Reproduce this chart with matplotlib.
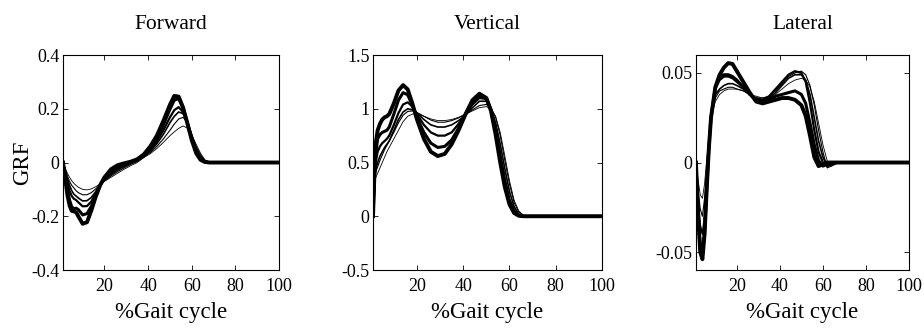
import matplotlib
matplotlib.use("Agg")
import matplotlib.pyplot as plt

plt.rcParams["font.family"] = ["Liberation Serif", "DejaVu Serif"]

# % gait cycle sample points shared by all curves
gait = [1, 2, 3, 4, 5, 6, 7, 8, 10, 12, 14, 16, 18, 20, 23, 26, 29, 32, 35, 38,
        41, 44, 47, 50, 52, 54, 56, 58, 60, 62, 64, 66, 68, 70, 100]

# six subjects / speeds per component, thin -> thick
forward = [
    [0, -0.02, -0.04, -0.055, -0.068, -0.078, -0.085, -0.092, -0.1, -0.102, -0.098, -0.09, -0.08, -0.07,
     -0.055, -0.04, -0.025, -0.012, 0.0, 0.018, 0.033, 0.052, 0.075, 0.1, 0.114, 0.127, 0.136, 0.128,
     0.1, 0.068, 0.035, 0.01, 0.002, 0, 0],
    [0, -0.025, -0.05, -0.07, -0.085, -0.095, -0.105, -0.112, -0.12, -0.12, -0.112, -0.098, -0.082, -0.068,
     -0.05, -0.034, -0.02, -0.007, 0.004, 0.02, 0.037, 0.06, 0.088, 0.12, 0.143, 0.162, 0.168, 0.15,
     0.105, 0.06, 0.028, 0.008, 0.001, 0, 0],
    [0, -0.03, -0.06, -0.085, -0.105, -0.118, -0.125, -0.132, -0.143, -0.142, -0.13, -0.108, -0.083, -0.066,
     -0.045, -0.028, -0.015, -0.003, 0.008, 0.022, 0.042, 0.07, 0.105, 0.148, 0.172, 0.188, 0.182, 0.152,
     0.102, 0.053, 0.021, 0.006, 0, 0, 0],
    [0, -0.04, -0.075, -0.105, -0.125, -0.135, -0.14, -0.148, -0.163, -0.162, -0.145, -0.115, -0.083, -0.063,
     -0.04, -0.022, -0.01, 0.0, 0.01, 0.025, 0.048, 0.08, 0.12, 0.168, 0.195, 0.206, 0.188, 0.148,
     0.093, 0.044, 0.016, 0.004, 0, 0, 0],
    [0, -0.05, -0.1, -0.14, -0.165, -0.172, -0.17, -0.175, -0.195, -0.19, -0.163, -0.122, -0.083, -0.058,
     -0.032, -0.015, -0.005, 0.002, 0.011, 0.027, 0.053, 0.09, 0.14, 0.198, 0.232, 0.238, 0.203, 0.148,
     0.088, 0.04, 0.013, 0.003, 0, 0, 0],
    [0, -0.06, -0.12, -0.16, -0.18, -0.182, -0.185, -0.2, -0.228, -0.222, -0.178, -0.127, -0.085, -0.055,
     -0.025, -0.01, -0.003, 0.003, 0.012, 0.03, 0.06, 0.1, 0.155, 0.215, 0.248, 0.245, 0.205, 0.145,
     0.083, 0.035, 0.01, 0.002, 0, 0, 0],
]

vertical = [
    [0, 0.35, 0.4, 0.45, 0.5, 0.55, 0.6, 0.64, 0.72, 0.8, 0.88, 0.93, 0.95, 0.955, 0.93, 0.905, 0.89,
     0.89, 0.9, 0.92, 0.95, 0.98, 1.01, 1.02, 1.0, 0.93, 0.78, 0.56, 0.33, 0.15, 0.05, 0.01, 0, 0, 0],
    [0, 0.4, 0.46, 0.52, 0.57, 0.62, 0.66, 0.7, 0.78, 0.87, 0.94, 0.975, 0.98, 0.965, 0.93, 0.895, 0.875,
     0.875, 0.89, 0.915, 0.95, 0.99, 1.03, 1.04, 1.01, 0.92, 0.75, 0.52, 0.3, 0.13, 0.04, 0.008, 0, 0, 0],
    [0, 0.42, 0.5, 0.56, 0.6, 0.64, 0.67, 0.7, 0.8, 0.9, 0.97, 1.0, 0.99, 0.96, 0.9, 0.85, 0.83,
     0.83, 0.85, 0.89, 0.94, 1.01, 1.07, 1.07, 1.0, 0.87, 0.67, 0.44, 0.23, 0.09, 0.02, 0.003, 0, 0, 0],
    [0, 0.48, 0.6, 0.65, 0.68, 0.7, 0.72, 0.75, 0.85, 0.96, 1.04, 1.06, 1.02, 0.95, 0.85, 0.78, 0.75,
     0.75, 0.78, 0.86, 0.95, 1.04, 1.1, 1.09, 1.0, 0.82, 0.58, 0.35, 0.16, 0.055, 0.012, 0, 0, 0, 0],
    [0, 0.55, 0.72, 0.76, 0.78, 0.79, 0.8, 0.83, 0.95, 1.08, 1.15, 1.13, 1.03, 0.92, 0.78, 0.68, 0.64,
     0.65, 0.71, 0.82, 0.95, 1.06, 1.12, 1.1, 0.99, 0.79, 0.53, 0.29, 0.12, 0.035, 0.006, 0, 0, 0, 0],
    [0, 0.65, 0.8, 0.86, 0.9, 0.92, 0.93, 0.95, 1.05, 1.17, 1.22, 1.18, 1.05, 0.9, 0.72, 0.6, 0.56,
     0.58, 0.67, 0.8, 0.95, 1.08, 1.14, 1.1, 0.98, 0.76, 0.5, 0.27, 0.11, 0.03, 0.005, 0, 0, 0, 0],
]

lateral = [
    [0, -0.01, -0.018, -0.02, -0.012, 0.002, 0.015, 0.025, 0.034, 0.038, 0.04, 0.041, 0.041, 0.041, 0.04,
     0.038, 0.037, 0.036, 0.036, 0.038, 0.041, 0.044, 0.046, 0.047, 0.046, 0.042, 0.034, 0.022, 0.01,
     0.001, -0.002, -0.001, 0, 0, 0],
    [0, -0.015, -0.026, -0.03, -0.02, -0.004, 0.012, 0.025, 0.036, 0.04, 0.041, 0.042, 0.042, 0.041, 0.04,
     0.038, 0.036, 0.036, 0.037, 0.04, 0.044, 0.048, 0.05, 0.051, 0.049, 0.043, 0.032, 0.018, 0.006,
     -0.003, -0.002, 0, 0, 0, 0],
    [0, -0.02, -0.035, -0.04, -0.03, -0.01, 0.01, 0.026, 0.038, 0.041, 0.043, 0.044, 0.044, 0.043, 0.041,
     0.038, 0.036, 0.035, 0.036, 0.039, 0.043, 0.047, 0.049, 0.049, 0.046, 0.038, 0.025, 0.012, 0.003,
     -0.002, -0.001, 0, 0, 0, 0],
    [0, -0.025, -0.045, -0.05, -0.038, -0.014, 0.008, 0.026, 0.041, 0.046, 0.048, 0.048, 0.047, 0.045, 0.042,
     0.038, 0.035, 0.035, 0.037, 0.041, 0.045, 0.049, 0.051, 0.05, 0.045, 0.033, 0.018, 0.006, 0.0,
     -0.002, -0.001, 0, 0, 0, 0],
    [0, -0.028, -0.048, -0.052, -0.04, -0.015, 0.008, 0.025, 0.042, 0.048, 0.049, 0.049, 0.048, 0.046, 0.042,
     0.038, 0.035, 0.034, 0.035, 0.037, 0.038, 0.039, 0.04, 0.038, 0.033, 0.022, 0.01, 0.001, -0.002,
     -0.001, 0, 0, 0, 0, 0],
    [0, -0.03, -0.05, -0.054, -0.04, -0.015, 0.008, 0.025, 0.042, 0.049, 0.053, 0.0555, 0.055, 0.051, 0.045,
     0.039, 0.034, 0.033, 0.034, 0.035, 0.036, 0.036, 0.035, 0.032, 0.026, 0.015, 0.003, -0.002, -0.001,
     0, 0, 0, 0, 0, 0],
]

titles = ["Forward", "Vertical", "Lateral"]
y_limits = [(-0.4, 0.4), (-0.5, 1.5), (-0.06, 0.06)]
y_ticks = [[-0.4, -0.2, 0, 0.2, 0.4], [-0.5, 0, 0.5, 1, 1.5], [-0.05, 0, 0.05]]
y_ticklabels = [["-0.4", "-0.2", "0", "0.2", "0.4"],
                ["-0.5", "0", "0.5", "1", "1.5"],
                ["-0.05", "0", "0.05"]]
x_ticks = [20, 40, 60, 80, 100]

line_widths = [0.6, 0.8, 1.2, 1.6, 2.2, 2.8]
# axes boxes in figure fractions [left, bottom, width, height]
boxes = [[0.0682, 0.1793, 0.2338, 0.6535],
         [0.4037, 0.1793, 0.2478, 0.6535],
         [0.7532, 0.1793, 0.2305, 0.6535]]


def main():
    fig = plt.figure(figsize=(9.24, 3.29), dpi=100)
    for i, curves in enumerate([forward, vertical, lateral]):
        ax = fig.add_axes(boxes[i])
        for vals, lw in zip(curves, line_widths):
            ax.plot(gait, vals, color="black", lw=lw, solid_joinstyle="round")
        ax.set_xlim(1, 100)
        ax.set_ylim(*y_limits[i])
        ax.set_xticks(x_ticks)
        ax.set_yticks(y_ticks[i])
        ax.set_yticklabels(y_ticklabels[i])
        ax.tick_params(direction="in", top=True, right=True, length=3.5, width=0.6,
                       labelsize=13)
        ax.tick_params(axis="x", pad=5.5)
        ax.tick_params(axis="y", pad=2.5)
        for s in ax.spines.values():
            s.set_linewidth(0.8)
        ax.set_title(titles[i], fontsize=15.5, pad=18.5)
        ax.set_xlabel("%Gait cycle", fontsize=16.5, labelpad=5.5)
        if i == 0:
            ax.set_ylabel("GRF", fontsize=16.5, labelpad=-1.5)
    fig.savefig("out.png", dpi=100)
    plt.close(fig)


if __name__ == "__main__":
    main()
